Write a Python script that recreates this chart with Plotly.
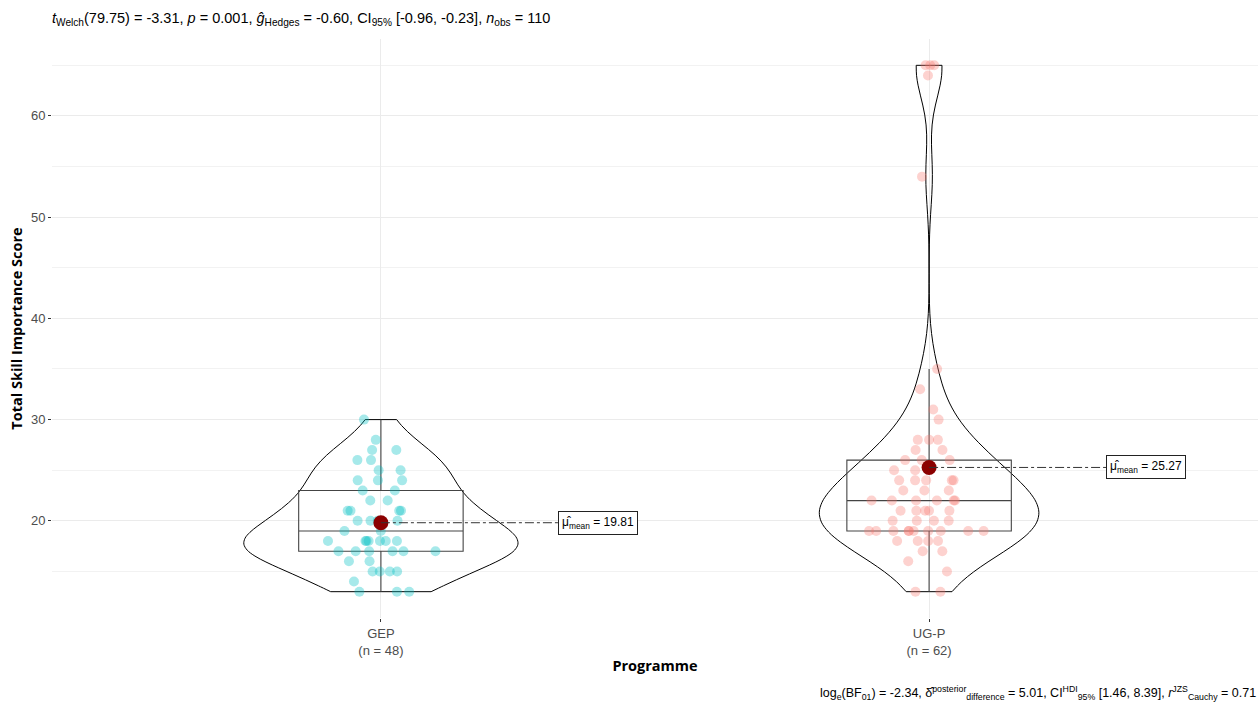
import numpy as np
import plotly.graph_objects as go

# Total skill importance scores by programme
groups = ["GEP", "UG-P"]
gep_scores = [30, 28, 27, 27, 26, 26, 25, 25, 24, 24, 24, 23, 23, 22, 22,
              21, 21, 21, 21, 20, 20, 20, 20, 19, 19,
              18, 18, 18, 18, 18, 18, 18, 17, 17, 17, 17, 17, 17,
              16, 16, 15, 15, 15, 15, 14, 13, 13, 13]
ugp_scores = [65, 65, 65, 64, 54, 35, 33, 31, 30, 28, 28, 28, 27, 27,
              26, 26, 26, 25, 25, 24, 24, 24, 24, 24, 23, 23, 23,
              22, 22, 22, 22, 22, 22, 21, 21, 21, 21, 21, 20, 20, 20, 20,
              19, 19, 19, 19, 19, 19, 19, 19, 19, 19, 18, 18, 18, 18,
              17, 17, 16, 15, 13, 13]
point_colors = ["rgba(0,191,196,0.35)", "rgba(248,118,109,0.33)"]
bw_adjust = [1.0, 1.45]

title_text = ("<i>t</i><sub>Welch</sub>(79.75) = -3.31, <i>p</i> = 0.001, "
              "<i>ĝ</i><sub>Hedges</sub> = -0.60, CI<sub>95%</sub> [-0.96, -0.23], "
              "<i>n</i><sub>obs</sub> = {n}")
caption_text = ("log<sub>e</sub>(BF<sub>01</sub>) = -2.34, "
                "δ̂<sup>posterior</sup><sub>difference</sub> = 5.01, "
                "CI<sup>HDI</sup><sub>95%</sub> [1.46, 8.39], "
                "<i>r</i><sup>JZS</sup><sub>Cauchy</sub> = 0.71")

data = [np.array(gep_scores, float), np.array(ugp_scores, float)]
xpos = [1, 2]


def bw_nrd0(v):
    q1, q3 = np.percentile(v, [25, 75])
    lo = min(np.std(v, ddof=1), (q3 - q1) / 1.34)
    return 0.9 * lo * len(v) ** -0.2


def kde_max(v, bw):
    g = np.linspace(v.min(), v.max(), 512)
    d = np.exp(-0.5 * ((g[:, None] - v[None, :]) / bw) ** 2).sum(1)
    return (d / (len(v) * bw * np.sqrt(2 * np.pi))).max()


bws = [bw_nrd0(v) * a for v, a in zip(data, bw_adjust)]
peaks = [kde_max(v, b) for v, b in zip(data, bws)]
top = max(peaks)

fig = go.Figure()

# Violins scaled to equal area, trimmed to the data range
for v, x, b, pk in zip(data, xpos, bws, peaks):
    fig.add_trace(go.Violin(
        y=v, x0=x, width=0.5 * pk / top, bandwidth=b, spanmode="hard",
        scalemode="width", points=False, fillcolor="rgba(255,255,255,0)",
        line=dict(color="black", width=1), box_visible=False,
        meanline_visible=False, hoverinfo="skip", showlegend=False))

# Boxes with jittered raw observations
for v, x, c in zip(data, xpos, point_colors):
    fig.add_trace(go.Box(
        y=v, x0=x, width=0.3, boxpoints="all", jitter=0.75, pointpos=0,
        whiskerwidth=0, fillcolor="rgba(0,0,0,0)",
        line=dict(color="#444444", width=1.1),
        marker=dict(color=c, size=10, line=dict(width=0)),
        showlegend=False))

means = [v.mean() for v in data]
fig.add_trace(go.Scatter(
    x=xpos, y=means, mode="markers",
    marker=dict(color="#8B0000", size=15), showlegend=False))

for x, m in zip(xpos, means):
    fig.add_shape(type="line", x0=x, x1=x + 0.323, y0=m, y1=m,
                  line=dict(color="#333333", width=1, dash="dashdot"))
    fig.add_annotation(
        x=x + 0.323, y=m, xanchor="left", yanchor="middle",
        text="μ̂<sub>mean</sub> = {:.2f}".format(m), showarrow=False,
        font=dict(family="Liberation Sans", size=12, color="black"),
        bgcolor="white", bordercolor="#222222", borderwidth=1, borderpad=3)

fig.add_annotation(
    xref="paper", yref="paper", x=1, y=-0.129, xanchor="right",
    yanchor="middle", text=caption_text, showarrow=False,
    font=dict(family="Liberation Sans", size=12.5, color="black"))

ticktext = ["{}<br>(n = {})".format(g, len(v)) for g, v in zip(groups, data)]

fig.update_layout(
    width=1258, height=706,
    margin=dict(l=52, r=0, t=39, b=88),
    paper_bgcolor="white", plot_bgcolor="white",
    violinmode="overlay", boxmode="overlay",
    title=dict(text=title_text.format(n=sum(len(v) for v in data)),
               x=52 / 1258, xanchor="left", xref="container",
               y=1 - 18 / 706, yanchor="middle",
               font=dict(family="Liberation Sans", size=14.5, color="black")),
    xaxis=dict(range=[0.4, 2.6], tickvals=xpos, ticktext=ticktext,
               showgrid=True, gridcolor="#EBEBEB", gridwidth=1,
               zeroline=False, ticks="outside", ticklen=3,
               tickcolor="#333333",
               tickfont=dict(family="Liberation Sans", size=13,
                             color="#4D4D4D"),
               title=dict(text="<b>Programme</b>", standoff=4,
                          font=dict(family="Open Sans", size=14.5,
                                    color="black"))),
    yaxis=dict(range=[10.4, 67.6], tickvals=[20, 30, 40, 50, 60],
               showgrid=True, gridcolor="#EBEBEB", gridwidth=1,
               zeroline=False, ticks="outside", ticklen=3,
               tickcolor="#333333",
               minor=dict(tickvals=[15, 25, 35, 45, 55, 65], showgrid=True,
                          gridcolor="#F2F2F2", gridwidth=1),
               tickfont=dict(family="Liberation Sans", size=13,
                             color="#4D4D4D"),
               title=dict(text="<b>Total Skill Importance Score</b>",
                          standoff=4,
                          font=dict(family="Open Sans", size=14.5,
                                    color="black"))),
)

fig.write_html("out.html")
